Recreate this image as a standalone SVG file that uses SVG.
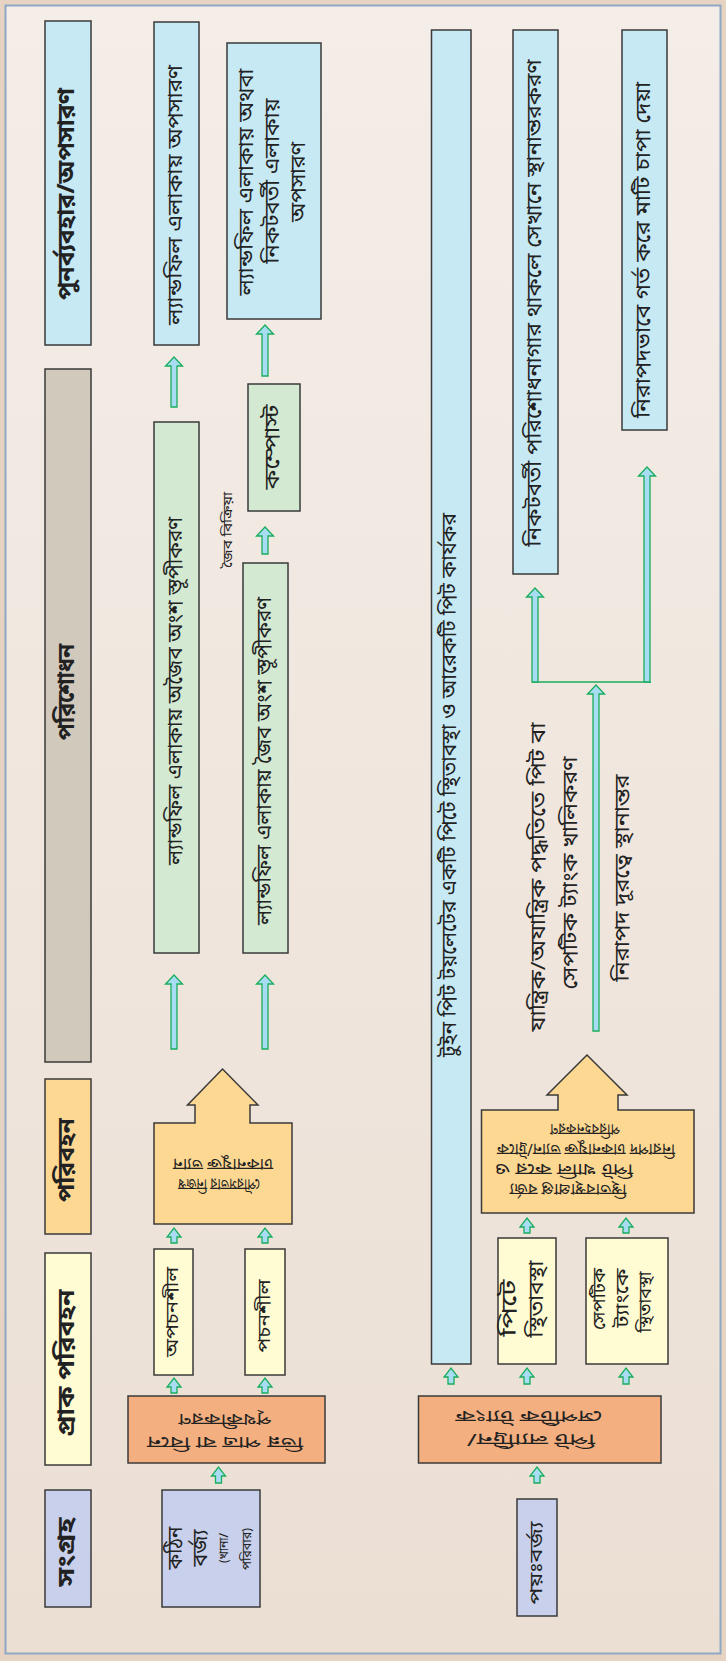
<svg xmlns="http://www.w3.org/2000/svg" width="726" height="1661" viewBox="0 0 726 1661">
<defs>
<linearGradient id="bg" x1="0" y1="0" x2="0" y2="1">
<stop offset="0" stop-color="#f4ede8"/>
<stop offset="1" stop-color="#ebdfd4"/>
</linearGradient>
</defs>
<style>
.bx{stroke:#3a3a3a;stroke-width:1.5}
.blue{fill:#c7e9f4}.green{fill:#d3e9d2}.gray{fill:#d2c9bd}.orl{fill:#fdd893}.sal{fill:#f3af7f}.yel{fill:#fffbd2}.lav{fill:#c8d0eb}
text{font-family:"Noto Sans Bengali","Lohit Bengali","FreeSans","Noto Sans",sans-serif;fill:#222;text-anchor:middle;dominant-baseline:central}
.h{font-size:23px;font-weight:bold}
.t{font-size:20px}
.m{font-size:17px}
.o{font-size:16px}
.s{font-size:12.5px}
.ar{fill:#a8dcf2;stroke:#19ad5c;stroke-width:1.3}
.ln{fill:none;stroke:#19ad5c;stroke-width:1.6}
</style>
<rect width="726" height="1661" fill="#e6d3c2"/>
<rect x="5.5" y="5.5" width="715" height="1648" fill="url(#bg)" stroke="#8ea8c3" stroke-width="2"/>

<g id="hdr-reuse"><rect class="bx blue" x="45" y="21" width="46" height="324"/><text class="h" transform="translate(68,194) rotate(-90)" textLength="212" lengthAdjust="spacingAndGlyphs">পুনর্ব্যবহার/অপসারণ</text></g>
<g id="hdr-treat"><rect class="bx gray" x="45" y="369" width="46" height="693"/><text class="h" transform="translate(68,692) rotate(-90)">পরিশোধন</text></g>
<g id="hdr-transport"><rect class="bx orl" x="45" y="1079" width="46" height="155"/><text class="h" transform="translate(68,1160) rotate(-90)" textLength="84" lengthAdjust="spacingAndGlyphs">পরিবহন</text></g>
<g id="hdr-pre"><rect class="bx yel" x="45" y="1253" width="46" height="212"/><text class="h" transform="translate(68,1363) rotate(-90)" textLength="147" lengthAdjust="spacingAndGlyphs">প্রাক পরিবহন</text></g>
<g id="hdr-collect"><rect class="bx lav" x="45" y="1490" width="46" height="117"/><text class="h" transform="translate(68,1552) rotate(-90)" textLength="69" lengthAdjust="spacingAndGlyphs">সংগ্রহ</text></g>

<g id="solid"><rect class="bx lav" x="162" y="1490" width="98" height="117"/>
<text class="t" transform="translate(177,1548) rotate(-90)" textLength="43" lengthAdjust="spacingAndGlyphs">কঠিন</text>
<text class="t" transform="translate(202,1548) rotate(-90)" textLength="37" lengthAdjust="spacingAndGlyphs">বর্জ্য</text>
<text class="s" transform="translate(225,1548) rotate(-90)" textLength="30" lengthAdjust="spacingAndGlyphs">(খানা/</text>
<text class="s" transform="translate(248,1549) rotate(-90)" textLength="42" lengthAdjust="spacingAndGlyphs">পরিবার)</text></g>

<g id="sort"><rect class="bx sal" x="128" y="1396" width="197" height="67"/>
<text class="o" transform="translate(225,1429) rotate(180)"><tspan x="0" y="-12" textLength="156" lengthAdjust="spacingAndGlyphs">ভিন্ন পাত্র বা বিনে</tspan><tspan x="0" y="11" textLength="93" lengthAdjust="spacingAndGlyphs">পৃথকীকরণ</tspan></text></g>

<g id="nonbio"><rect class="bx yel" x="154" y="1249" width="39" height="126"/><text class="m" transform="translate(173.5,1312) rotate(-90)" textLength="90" lengthAdjust="spacingAndGlyphs">অপচনশীল</text></g>
<g id="bio"><rect class="bx yel" x="245" y="1249" width="40" height="126"/><text class="m" transform="translate(265,1316) rotate(-90)" textLength="73" lengthAdjust="spacingAndGlyphs">পচনশীল</text></g>

<g id="van"><path class="bx orl" d="M154,1224 V1123 H195 V1105 H187.5 L222.5,1069 L258,1105 H250 V1123 H292 V1224 Z"/>
<text class="o" transform="translate(221,1173) rotate(180)"><tspan x="2" y="-10" textLength="82" lengthAdjust="spacingAndGlyphs">পৌরসভার নিজস্ব</tspan><tspan x="-2" y="10" textLength="100" lengthAdjust="spacingAndGlyphs">ঢাকনাযুক্ত ভ্যান</tspan></text></g>

<g id="landfill-inorg"><rect class="bx green" x="154" y="422" width="45" height="531"/><text class="t" transform="translate(176.5,691) rotate(-90)" textLength="348" lengthAdjust="spacingAndGlyphs">ল্যান্ডফিল এলাকায় অজৈব অংশ স্তূপীকরণ</text></g>
<g id="landfill-org"><rect class="bx green" x="243" y="563" width="45" height="390"/><text class="t" transform="translate(265.5,761) rotate(-90)" textLength="328" lengthAdjust="spacingAndGlyphs">ল্যান্ডফিল এলাকায় জৈব অংশ স্তূপীকরণ</text></g>
<g id="bioreact"><text class="s" transform="translate(229,530) rotate(-90)" textLength="76" lengthAdjust="spacingAndGlyphs">জৈব বিক্রিয়া</text></g>
<g id="compost"><rect class="bx green" x="248" y="384" width="52" height="127"/><text class="t" transform="translate(274,447) rotate(-90)" textLength="85" lengthAdjust="spacingAndGlyphs">কম্পোস্ট</text></g>

<g id="dispose1"><rect class="bx blue" x="154" y="22" width="45" height="323"/><text class="t" transform="translate(176.5,195) rotate(-90)" textLength="260" lengthAdjust="spacingAndGlyphs">ল্যান্ডফিল এলাকায় অপসারণ</text></g>
<g id="dispose2"><rect class="bx blue" x="227" y="43" width="94" height="276"/>
<text class="t" transform="translate(248,182) rotate(-90)" textLength="227" lengthAdjust="spacingAndGlyphs">ল্যান্ডফিল এলাকায় অথবা</text>
<text class="t" transform="translate(274,181) rotate(-90)" textLength="165" lengthAdjust="spacingAndGlyphs">নিকটবর্তী এলাকায়</text>
<text class="t" transform="translate(300,182) rotate(-90)" textLength="80" lengthAdjust="spacingAndGlyphs">অপসারণ</text></g>

<g id="sewage"><rect class="bx lav" x="517" y="1499" width="40" height="117"/><text class="m" transform="translate(537,1563) rotate(-90)" textLength="83" lengthAdjust="spacingAndGlyphs">পয়ঃবর্জ্য</text></g>
<g id="latrine"><rect class="bx sal" x="418.5" y="1396" width="242.5" height="67"/>
<text class="o" transform="translate(530,1426) rotate(180)"><tspan x="-1" y="-12" textLength="128" lengthAdjust="spacingAndGlyphs">পিট ল্যাট্রিন/</tspan><tspan x="1" y="11" textLength="147" lengthAdjust="spacingAndGlyphs">সেপটিক ট্যাংক</tspan></text></g>

<g id="twinpit"><rect class="bx blue" x="431.5" y="30" width="39.5" height="1334"/><text class="t" transform="translate(451,785) rotate(-90)" textLength="544" lengthAdjust="spacingAndGlyphs">টুইন পিট টয়লেটের একটি পিটে স্থিতাবস্থা ও আরেকটি পিট কার্যকর</text></g>
<g id="pitstab"><rect class="bx yel" x="498" y="1238" width="58" height="126"/>
<text class="t" transform="translate(511,1308) rotate(-90)" textLength="57" lengthAdjust="spacingAndGlyphs">পিটে</text>
<text class="t" transform="translate(538,1299) rotate(-90)" textLength="77" lengthAdjust="spacingAndGlyphs">স্থিতাবস্থা</text></g>
<g id="septicstab"><rect class="bx yel" x="586" y="1238" width="82" height="126"/>
<text class="m" transform="translate(600,1299) rotate(-90)" textLength="62" lengthAdjust="spacingAndGlyphs">সেপটিক</text>
<text class="m" transform="translate(623,1298) rotate(-90)" textLength="59" lengthAdjust="spacingAndGlyphs">ট্যাংকে</text>
<text class="m" transform="translate(646,1302) rotate(-90)" textLength="61" lengthAdjust="spacingAndGlyphs">স্থিতাবস্থা</text></g>

<g id="sludge-transport"><path class="bx orl" d="M481.5,1213 V1110 H558 V1095 H547 L587,1055 L627,1095 H618 V1110 H694 V1213 Z"/>
<text class="o" transform="translate(585,1158) rotate(180)"><tspan x="17" y="-30" textLength="117" lengthAdjust="spacingAndGlyphs">স্থিতাবস্থাপ্রাপ্ত বর্জ্য</tspan><tspan x="21" y="-10" textLength="138" lengthAdjust="spacingAndGlyphs">পিট খালি করে ও</tspan><tspan x="-1" y="10" textLength="178" lengthAdjust="spacingAndGlyphs">নিরাপদ ঢাকনাযুক্ত ভ্যান/ট্রাকে</tspan><tspan x="0" y="30" textLength="70" lengthAdjust="spacingAndGlyphs">পরিবহনকরণ</tspan></text></g>

<g id="emptying">
<text class="t" transform="translate(540,877) rotate(-90)" textLength="309" lengthAdjust="spacingAndGlyphs">যান্ত্রিক/অযান্ত্রিক পদ্ধতিতে পিট বা</text>
<text class="t" transform="translate(572,873) rotate(-90)" textLength="233" lengthAdjust="spacingAndGlyphs">সেপটিক ট্যাংক খালিকরণ</text></g>
<g id="safe-transfer"><text class="t" transform="translate(624,878) rotate(-90)" textLength="207" lengthAdjust="spacingAndGlyphs">নিরাপদ দূরত্বে স্থানান্তর</text></g>

<g id="plant"><rect class="bx blue" x="513" y="30" width="45" height="544"/><text class="t" transform="translate(535.5,303) rotate(-90)" textLength="487" lengthAdjust="spacingAndGlyphs">নিকটবর্তী পরিশোধনাগার থাকলে সেখানে স্থানান্তরকরণ</text></g>
<g id="bury"><rect class="bx blue" x="622" y="30" width="45" height="400"/><text class="t" transform="translate(644.5,250) rotate(-90)" textLength="336" lengthAdjust="spacingAndGlyphs">নিরাপদভাবে গর্ত করে মাটি চাপা দেয়া</text></g>

<g id="connectors">
<path class="ar" d="M215.5,1483 V1476 H211.5 L218.5,1467 L225.5,1476 H221.5 V1483 Z"/>
<path class="ar" d="M171,1393 V1387 H167 L174,1378 L181,1387 H177 V1393 Z"/>
<path class="ar" d="M262,1393 V1387 H258 L265,1378 L272,1387 H268 V1393 Z"/>
<path class="ar" d="M171,1243 V1237 H167 L174,1228 L181,1237 H177 V1243 Z"/>
<path class="ar" d="M262,1243 V1237 H258 L265,1228 L272,1237 H268 V1243 Z"/>
<path class="ar" d="M534,1483 V1476 H530 L537,1467 L544,1476 H540 V1483 Z"/>
<path class="ar" d="M448,1384 V1377 H444 L451,1368 L458,1377 H454 V1384 Z"/>
<path class="ar" d="M524,1384 V1377 H520 L527,1368 L534,1377 H530 V1384 Z"/>
<path class="ar" d="M623,1384 V1377 H619 L626,1368 L633,1377 H629 V1384 Z"/>
<path class="ar" d="M524,1233 V1227 H520 L527,1218 L534,1227 H530 V1233 Z"/>
<path class="ar" d="M623,1233 V1227 H619 L626,1218 L633,1227 H629 V1233 Z"/>
<path class="ar" d="M171,1049 V984 H165.5 L174,975 L182.5,984 H177 V1049 Z"/>
<path class="ar" d="M262,1049 V984 H256.5 L265,975 L273.5,984 H268 V1049 Z"/>
<path class="ar" d="M262,554 V536 H256.5 L265,527 L273.5,536 H268 V554 Z"/>
<path class="ar" d="M171,407 V366 H165.5 L174,357 L182.5,366 H177 V407 Z"/>
<path class="ar" d="M262,376 V334 H256.5 L265,325 L273.5,334 H268 V376 Z"/>
<path class="ar" d="M593,1031 V694 H587.5 L596,685 L604.5,694 H599 V1031 Z"/>
<path class="ln" d="M532,682 H651"/>
<path class="ar" d="M532,682 V597 H526.5 L535,588 L543.5,597 H538 V682 Z"/>
<path class="ar" d="M644,682 V476 H638.5 L647,467 L655.5,476 H650 V682 Z"/>
</g>
</svg>
